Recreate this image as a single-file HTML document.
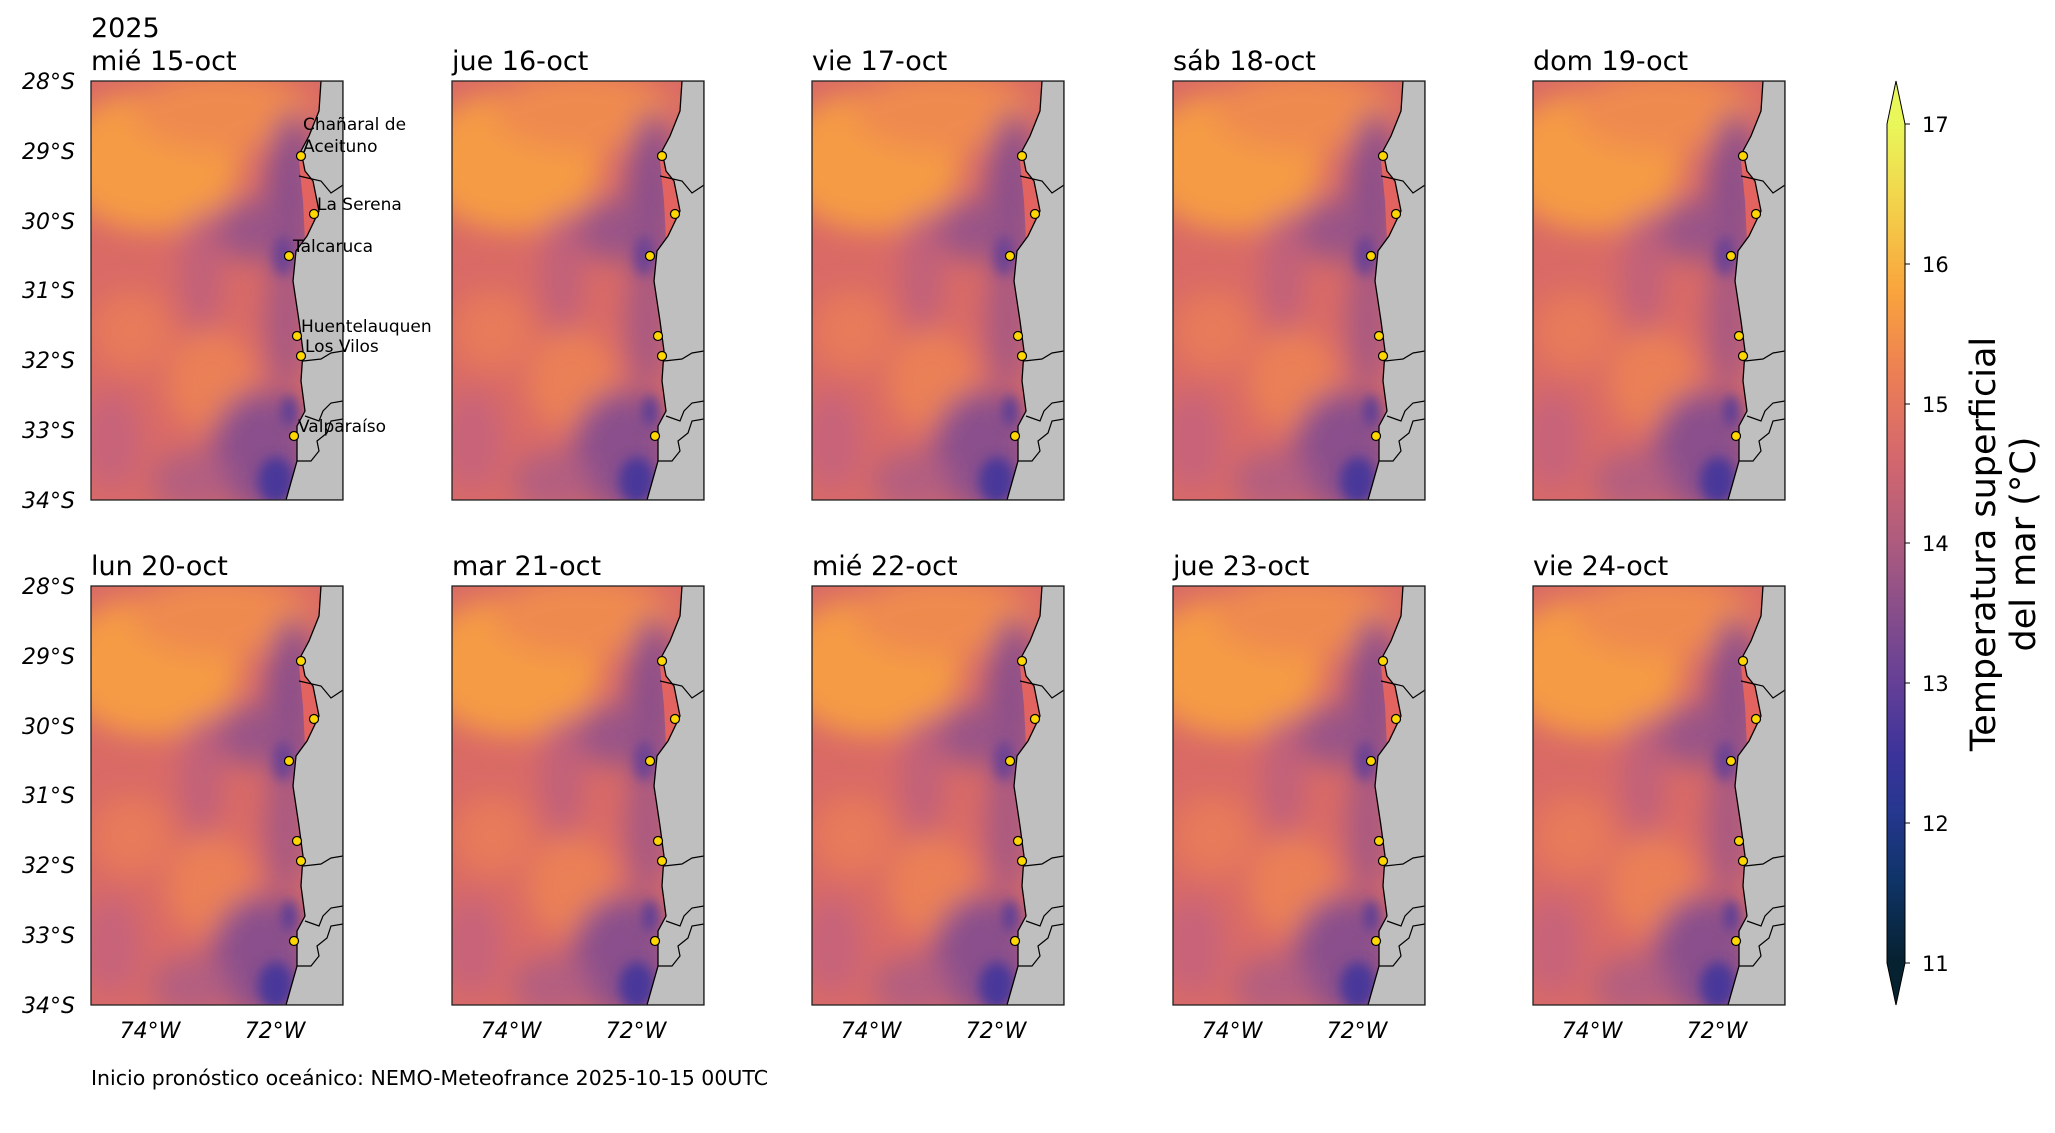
<!DOCTYPE html>
<html><head><meta charset="utf-8"><style>
body{margin:0;background:#fff;width:2055px;height:1128px;overflow:hidden}
text{font-family:"DejaVu Sans","Liberation Sans",sans-serif}
</style></head><body>
<svg width="2055" height="1128" viewBox="0 0 2055 1128" xmlns="http://www.w3.org/2000/svg">
<defs>
<filter id="bl" x="-30%" y="-30%" width="160%" height="160%"><feGaussianBlur stdDeviation="14"/></filter>
<filter id="bs" x="-30%" y="-30%" width="160%" height="160%"><feGaussianBlur stdDeviation="6"/></filter>
<clipPath id="cp"><rect x="0" y="0" width="252" height="419"/></clipPath>
<linearGradient id="cb" x1="0" y1="1" x2="0" y2="0">
<stop offset="0" stop-color="#06212f"/><stop offset="0.1" stop-color="#0f3468"/><stop offset="0.18" stop-color="#26378f"/>
<stop offset="0.25" stop-color="#3c339a"/><stop offset="0.33" stop-color="#633f97"/><stop offset="0.42" stop-color="#884e8a"/>
<stop offset="0.5" stop-color="#ad5b7e"/><stop offset="0.6" stop-color="#d3676e"/><stop offset="0.7" stop-color="#ec7e55"/>
<stop offset="0.8" stop-color="#f9a43d"/><stop offset="0.9" stop-color="#f3d04a"/><stop offset="1" stop-color="#e9f75a"/>
</linearGradient>
<g id="pan">
<g clip-path="url(#cp)">
<rect width="252" height="419" fill="#d96a66"/>
<g filter="url(#bl)">
<ellipse cx="60" cy="80" rx="90" ry="70" fill="#f59b45"/>
<ellipse cx="130" cy="30" rx="90" ry="40" fill="#ef8a4f"/>
<ellipse cx="120" cy="300" rx="45" ry="50" fill="#ea8056"/>
<ellipse cx="40" cy="250" rx="40" ry="40" fill="#e77a5a"/>
<ellipse cx="200" cy="120" rx="25" ry="90" fill="#8c4f8a"/>
<ellipse cx="160" cy="150" rx="35" ry="30" fill="#9a5487"/>
<ellipse cx="195" cy="240" rx="20" ry="70" fill="#a65983"/>
<ellipse cx="170" cy="370" rx="50" ry="60" fill="#8a4f8c"/>
<ellipse cx="100" cy="400" rx="40" ry="30" fill="#b45e80"/>
<ellipse cx="20" cy="360" rx="30" ry="50" fill="#c7637a"/>
<ellipse cx="110" cy="190" rx="20" ry="60" fill="#c0607c"/>
</g>
<g filter="url(#bs)">
<ellipse cx="185" cy="400" rx="18" ry="24" fill="#4a379a"/>
<ellipse cx="192" cy="175" rx="10" ry="20" fill="#6a4294"/>
<ellipse cx="198" cy="330" rx="8" ry="16" fill="#5a3c96"/>
</g>
<path d="M216,60 L222,90 L228,130 L214,160 L212,120 L208,80 Z" fill="#e2635f"/>
<path d="M230,0 L228,30 L218,55 L210,70 L214,90 L222,100 L228,130 L216,155 L205,170 L202,200 L208,240 L212,270 L210,300 L214,330 L206,345 L206,380 L195,419 L252,419 L252,0 Z" fill="#bfbfbf" stroke="#000" stroke-width="1.3"/>
<path d="M208,95 L230,100 L240,112 L246,108 L252,104 M212,280 L230,278 L240,272 L252,270 M214,335 L228,340 L232,330 L240,322 L252,320 M206,380 L220,380 L228,370 L226,360 L236,352 L240,340 L252,338" fill="none" stroke="#000" stroke-width="1.2"/>
</g>
<rect width="252" height="419" fill="none" stroke="#222" stroke-width="1.3"/>
<g fill="#ffd700" stroke="#000" stroke-width="1.2">
<circle cx="210" cy="75" r="4.5"/><circle cx="223" cy="133" r="4.5"/><circle cx="198" cy="175" r="4.5"/>
<circle cx="206" cy="255" r="4.5"/><circle cx="210" cy="275" r="4.5"/><circle cx="203" cy="355" r="4.5"/>
</g>
</g>
</defs>
<g font-size="27" fill="#000">
<text x="91" y="37">2025</text>
<text x="91" y="70">mié 15-oct</text><text x="452" y="70">jue 16-oct</text><text x="812" y="70">vie 17-oct</text><text x="1173" y="70">sáb 18-oct</text><text x="1533" y="70">dom 19-oct</text>
<text x="91" y="575">lun 20-oct</text><text x="452" y="575">mar 21-oct</text><text x="812" y="575">mié 22-oct</text><text x="1173" y="575">jue 23-oct</text><text x="1533" y="575">vie 24-oct</text>
</g>
<use href="#pan" x="91" y="81"/><use href="#pan" x="452" y="81"/><use href="#pan" x="812" y="81"/><use href="#pan" x="1173" y="81"/><use href="#pan" x="1533" y="81"/>
<use href="#pan" x="91" y="586"/><use href="#pan" x="452" y="586"/><use href="#pan" x="812" y="586"/><use href="#pan" x="1173" y="586"/><use href="#pan" x="1533" y="586"/>
<g font-size="17" fill="#000">
<text x="303" y="130">Chañaral de</text><text x="303" y="152">Aceituno</text>
<text x="317" y="210">La Serena</text><text x="293" y="252">Talcaruca</text>
<text x="301" y="332">Huentelauquen</text><text x="305" y="352">Los Vilos</text><text x="298" y="432">Valparaíso</text>
</g>
<g font-size="22" fill="#000" font-style="italic" text-anchor="end">
<text x="75" y="89">28°S</text><text x="75" y="159">29°S</text><text x="75" y="229">30°S</text><text x="75" y="298">31°S</text><text x="75" y="368">32°S</text><text x="75" y="438">33°S</text><text x="75" y="508">34°S</text>
<text x="75" y="594">28°S</text><text x="75" y="664">29°S</text><text x="75" y="734">30°S</text><text x="75" y="803">31°S</text><text x="75" y="873">32°S</text><text x="75" y="943">33°S</text><text x="75" y="1013">34°S</text>
</g>
<g font-size="22" fill="#000" font-style="italic" text-anchor="middle">
<text x="150" y="1038">74°W</text><text x="275" y="1038">72°W</text>
<text x="511" y="1038">74°W</text><text x="636" y="1038">72°W</text>
<text x="871" y="1038">74°W</text><text x="996" y="1038">72°W</text>
<text x="1232" y="1038">74°W</text><text x="1357" y="1038">72°W</text>
<text x="1592" y="1038">74°W</text><text x="1717" y="1038">72°W</text>
</g>
<text x="91" y="1085" font-size="20.5">Inicio pronóstico oceánico: NEMO-Meteofrance 2025-10-15 00UTC</text>
<rect x="1887" y="124" width="18" height="839" fill="url(#cb)"/>
<path d="M1887,124 L1896,81 L1905,124 Z" fill="#e9f75a"/>
<path d="M1887,963 L1896,1005 L1905,963 Z" fill="#06212f"/>
<path d="M1887,124 L1896,81 L1905,124 L1905,963 L1896,1005 L1887,963 Z" fill="none" stroke="#000" stroke-width="1"/>
<g font-size="21" fill="#000">
<text x="1922" y="132">17</text><text x="1922" y="272">16</text><text x="1922" y="412">15</text><text x="1922" y="551">14</text><text x="1922" y="691">13</text><text x="1922" y="831">12</text><text x="1922" y="971">11</text>
</g>
<g stroke="#000"><path d="M1905,124h5M1905,264h5M1905,404h5M1905,543h5M1905,683h5M1905,823h5M1905,963h5"/></g>
<g font-size="35" fill="#000" text-anchor="middle" transform="translate(1995,544) rotate(-90)">
<text x="0" y="0">Temperatura superficial</text><text x="0" y="40">del mar (°C)</text>
</g>
</svg>
</body></html>
